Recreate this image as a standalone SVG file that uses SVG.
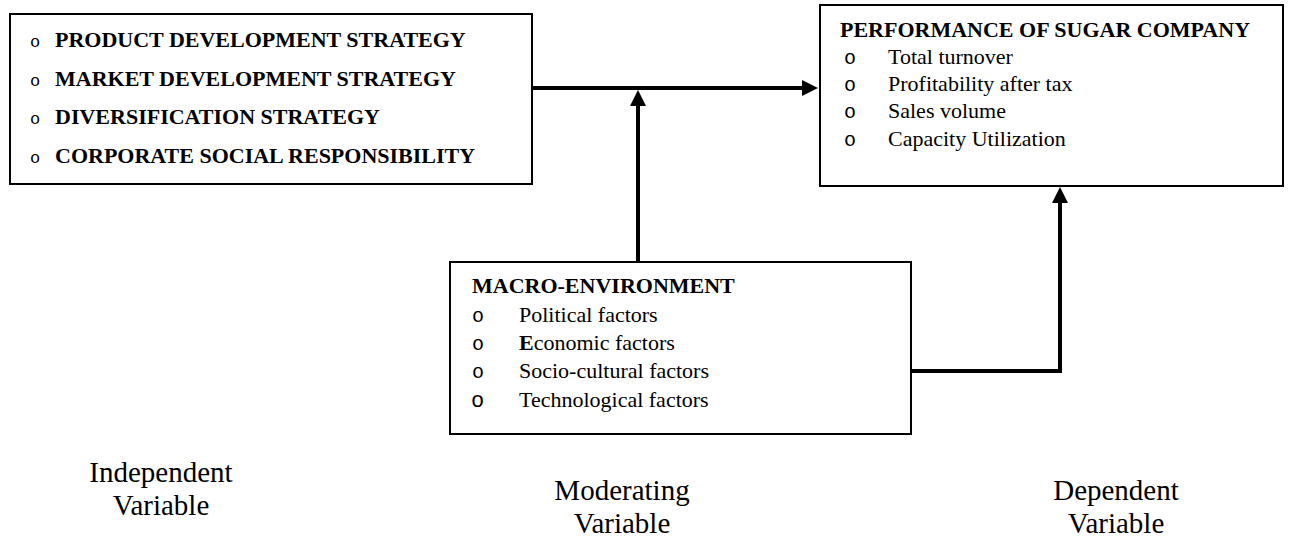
<svg xmlns="http://www.w3.org/2000/svg" width="1291" height="537" viewBox="0 0 1291 537">
  <style>
    .box { fill: #ffffff; stroke: #000000; stroke-width: 2; }
    .t { font-family: "Liberation Serif", "Times New Roman", serif; font-size: 22px; fill: #000000; }
    .b { font-weight: bold; }
    .bul { font-family: "Liberation Mono", "Courier New", monospace; font-size: 20px; fill: #000000; }
    .bul-s { font-family: "Liberation Mono", "Courier New", monospace; font-size: 17px; fill: #000000; }
    .lbl { font-family: "Liberation Serif", "Times New Roman", serif; font-size: 29px; fill: #000000; text-anchor: middle; }
    .conn { fill: none; stroke: #000000; stroke-width: 4; }
  </style>
  <defs>
    <marker id="head" markerUnits="userSpaceOnUse" markerWidth="16" markerHeight="16" viewBox="0 0 16 16" refX="4" refY="8" orient="auto">
      <path d="M0,0 L16,8 L0,16 Z" fill="#000000"/>
    </marker>
  </defs>

  <!-- connectors -->
  <g id="connectors">
    <line class="conn" x1="532" y1="88" x2="806" y2="88" marker-end="url(#head)"/>
    <line class="conn" x1="638" y1="262" x2="638" y2="102" marker-end="url(#head)"/>
    <polyline class="conn" points="911,371 1060,371 1060,199" marker-end="url(#head)"/>
  </g>

  <!-- independent variables -->
  <g id="strategies">
    <rect class="box" x="10" y="14" width="522" height="170"/>
    <text class="bul-s" x="30" y="47">o</text>
    <text class="t b" x="55" y="47">PRODUCT DEVELOPMENT STRATEGY</text>
    <text class="bul-s" x="30" y="86">o</text>
    <text class="t b" x="55" y="86">MARKET DEVELOPMENT STRATEGY</text>
    <text class="bul-s" x="30" y="124">o</text>
    <text class="t b" x="55" y="124">DIVERSIFICATION STRATEGY</text>
    <text class="bul-s" x="30" y="163">o</text>
    <text class="t b" x="55" y="163">CORPORATE SOCIAL RESPONSIBILITY</text>
  </g>

  <!-- dependent variable -->
  <g id="performance">
    <rect class="box" x="820" y="5" width="463" height="181"/>
    <text class="t b" x="840" y="37">PERFORMANCE OF SUGAR COMPANY</text>
    <text class="bul" x="844" y="64">o</text>
    <text class="t" x="888" y="64">Total turnover</text>
    <text class="bul" x="844" y="91">o</text>
    <text class="t" x="888" y="91">Profitability after tax</text>
    <text class="bul" x="844" y="118">o</text>
    <text class="t" x="888" y="118">Sales volume</text>
    <text class="bul" x="844" y="146">o</text>
    <text class="t" x="888" y="146">Capacity Utilization</text>
  </g>

  <!-- moderating variable -->
  <g id="macro-environment">
    <rect class="box" x="450" y="262" width="461" height="172"/>
    <text class="t b" x="472" y="293">MACRO-ENVIRONMENT</text>
    <text class="bul" x="472" y="322">o</text>
    <text class="t" x="519" y="322">Political factors</text>
    <text class="bul" x="472" y="350">o</text>
    <text class="t" x="519" y="350"><tspan class="b">E</tspan>conomic factors</text>
    <text class="bul" x="472" y="378">o</text>
    <text class="t" x="519" y="378">Socio-cultural factors</text>
    <text class="bul" x="471" y="407" style="font-size:22px">o</text>
    <text class="t" x="519" y="407">Technological factors</text>
  </g>

  <!-- column captions -->
  <g id="captions">
    <text class="lbl" x="161" y="482">Independent</text>
    <text class="lbl" x="161" y="515">Variable</text>
    <text class="lbl" x="622" y="500">Moderating</text>
    <text class="lbl" x="622" y="533">Variable</text>
    <text class="lbl" x="1116" y="500">Dependent</text>
    <text class="lbl" x="1116" y="533">Variable</text>
  </g>
</svg>
